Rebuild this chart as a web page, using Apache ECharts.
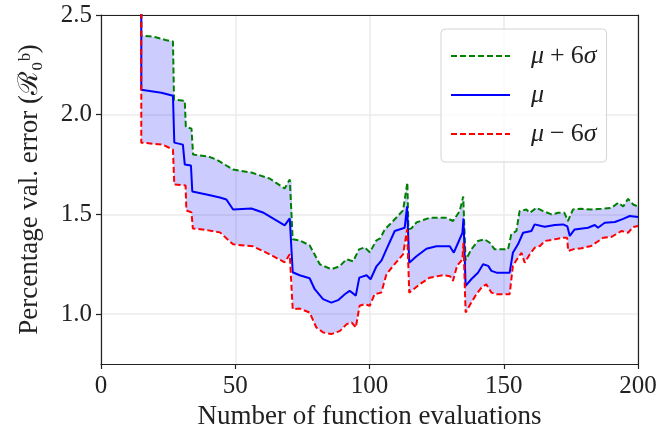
<!DOCTYPE html>
<html>
<head>
<meta charset="utf-8">
<script src="https://cdn.jsdelivr.net/npm/echarts@6/dist/echarts.min.js"></script>
</head>
<body style="margin:0">
<div id="main" style="width:657px;height:430px"></div>
<script type="text/javascript">
// [evaluations, value]
var upper = [
  [15, 4.0], [15, 2.397], [20, 2.39], [24, 2.375], [26.8, 2.367], [27.2, 2.075], [31.2, 2.07], [31.6, 1.94],
  [33.7, 1.93], [34.3, 1.80], [40, 1.79], [43, 1.775], [49.2, 1.725], [56, 1.71], [62.8, 1.68], [68.4, 1.63],
  [70.3, 1.675], [71, 1.67], [71.4, 1.375], [74, 1.37], [77.7, 1.345], [81.5, 1.25], [85.8, 1.225], [88.9, 1.24],
  [91.4, 1.275], [93.9, 1.265], [96.1, 1.325], [98.2, 1.335], [100.1, 1.31], [102.6, 1.37], [104, 1.38],
  [105.7, 1.425], [108.8, 1.467], [112.5, 1.52], [114.1, 1.66], [114.5, 1.425], [115.6, 1.43], [117.5, 1.46],
  [120, 1.472], [122.4, 1.483], [128.6, 1.483], [131.1, 1.467], [133.6, 1.517], [134.9, 1.59], [135.8, 1.27],
  [137.9, 1.325], [140.4, 1.367], [142.9, 1.375], [144.8, 1.358], [146.6, 1.325], [151.6, 1.325], [152.8, 1.40],
  [154.7, 1.417], [155.9, 1.517], [158.4, 1.525], [159.7, 1.508], [162.2, 1.533], [164.7, 1.517], [167.8, 1.50],
  [170.3, 1.508], [172.6, 1.508], [173.9, 1.467], [175.8, 1.525], [178.9, 1.528], [182.6, 1.525], [186.4, 1.528],
  [190.1, 1.533], [192.6, 1.558], [194.5, 1.54], [196.3, 1.578], [198.2, 1.55], [200, 1.54]
];
var mean = [
  [15, 4.0], [15, 2.125], [22.5, 2.11], [26.8, 2.095], [27.3, 1.86], [30.5, 1.85], [31.2, 1.75], [33.5, 1.745],
  [34, 1.615], [39.3, 1.60], [44.3, 1.585], [46.7, 1.575], [49.2, 1.525], [56, 1.53], [60.3, 1.51], [68.4, 1.445],
  [70.3, 1.48], [71, 1.47], [71.4, 1.21], [74, 1.195], [77.7, 1.18], [79.6, 1.125], [82.7, 1.075], [85.8, 1.058],
  [88.3, 1.07], [90.8, 1.10], [92.6, 1.117], [94.9, 1.093], [96.2, 1.183], [98.9, 1.195], [100.4, 1.175],
  [102.6, 1.24], [104.5, 1.27], [106.3, 1.325], [109.4, 1.417], [113.1, 1.433], [114, 1.54], [114.8, 1.258],
  [117.5, 1.29], [121.2, 1.328], [124.9, 1.34], [129.9, 1.34], [131.4, 1.308], [133, 1.358], [134.6, 1.408],
  [135, 1.48], [135.8, 1.142], [137.9, 1.175], [140.4, 1.208], [142.3, 1.25], [144.2, 1.242], [145.4, 1.217],
  [147.3, 1.208], [152.2, 1.208], [153.4, 1.308], [155.3, 1.35], [157.2, 1.408], [160.3, 1.417], [161.5, 1.45],
  [164, 1.442], [165.3, 1.438], [169, 1.447], [172.1, 1.45], [173.7, 1.44], [174.6, 1.392], [176.4, 1.425],
  [181.4, 1.433], [183.9, 1.447], [185.1, 1.433], [187.6, 1.458], [191.4, 1.462], [194.5, 1.478], [196.9, 1.492],
  [200, 1.487]
];
var lower = [
  [15, 4.0], [15, 1.86], [23, 1.85], [26.8, 1.825], [27.3, 1.65], [31.5, 1.645], [31.8, 1.52], [33.7, 1.51],
  [34.2, 1.43], [40, 1.42], [44.3, 1.41], [49.2, 1.35], [56.6, 1.34], [62.8, 1.30], [68.4, 1.26], [70.3, 1.30],
  [71, 1.29], [71.4, 1.025], [74, 1.028], [77.7, 1.008], [80.2, 0.933], [82.8, 0.908], [85.8, 0.90], [88.9, 0.915],
  [91.5, 0.95], [93.4, 0.958], [94.9, 0.933], [96.3, 1.042], [98.2, 1.05], [100.1, 1.042], [101.9, 1.10],
  [104.4, 1.108], [106.3, 1.20], [108.8, 1.242], [112.5, 1.30], [114, 1.425], [114.8, 1.108], [118.7, 1.15],
  [122.4, 1.183], [127.4, 1.195], [130, 1.19], [131.1, 1.167], [132.6, 1.242], [134.6, 1.275], [135, 1.358],
  [135.8, 1.008], [137.9, 1.058], [139.8, 1.10], [141.7, 1.133], [143.5, 1.15], [145.4, 1.108], [147.3, 1.10],
  [152.2, 1.10], [153.4, 1.242], [155.3, 1.283], [156.6, 1.308], [157.8, 1.258], [159.7, 1.30], [161.5, 1.333],
  [163.5, 1.342], [165.3, 1.367], [169, 1.375], [172.1, 1.383], [173.6, 1.383], [174, 1.317], [175.8, 1.325],
  [178.9, 1.33], [182.6, 1.342], [187, 1.383], [190.1, 1.387], [193.9, 1.417], [196.3, 1.408], [198.2, 1.437],
  [200, 1.442]
];
var xTicks = [0, 50, 100, 150, 200];
var yTicks = [1.0, 1.5, 2.0, 2.5];
var names = ['μ + 6σ', 'μ', 'μ − 6σ'];

var myChart = echarts.init(document.getElementById('main'));
var serif = '"Liberation Serif", "DejaVu Serif", serif';
var spine = { show: true, onZero: false, lineStyle: { color: '#222', width: 1.2 } };

var option = {
    animation: false,
    backgroundColor: '#fff',
    grid: {
        left: 101, right: 19, top: 15, bottom: 66,
        outerBoundsMode: 'none', containLabel: false
    },
    legend: {
        data: names,
        orient: 'vertical',
        left: 441, top: 29,
        padding: [14, 10, 15, 9],
        itemWidth: 59, itemHeight: 14, itemGap: 13,
        borderColor: '#d4d4d4', borderWidth: 1, borderRadius: 4,
        backgroundColor: 'rgba(255,255,255,0.8)',
        itemStyle: { opacity: 0 },
        formatter: function (name) {
            if (name === names[0]) return '{i|μ}{o|+}6{i|σ}';
            if (name === names[1]) return '{i|μ}';
            return '{i|μ}{o|−}6{i|σ}';
        },
        textStyle: {
            fontFamily: serif, fontSize: 26, color: '#222', padding: [0, 0, 0, 16],
            rich: {
                i: { fontFamily: serif, fontSize: 26, fontStyle: 'italic', color: '#222' },
                o: { fontFamily: serif, fontSize: 26, color: '#222', padding: [0, 6, 0, 6] }
            }
        }
    },
    xAxis: [{
        type: 'value', min: 0, max: 200, interval: 50,
        name: 'Number of function evaluations', nameLocation: 'middle', nameGap: 32,
        nameTextStyle: { fontFamily: serif, fontSize: 27, color: '#222' },
        axisLine: spine,
        axisTick: { length: 5, lineStyle: { color: '#222', width: 1.2 }, customValues: xTicks },
        axisLabel: { fontFamily: serif, fontSize: 25, color: '#222', margin: 10, customValues: xTicks },
        splitLine: { show: true, lineStyle: { color: '#ebebeb', width: 1.5 } }
    }, {
        type: 'value', position: 'top', min: 0, max: 200,
        axisLine: spine,
        axisTick: { show: false }, axisLabel: { show: false }, splitLine: { show: false }
    }],
    yAxis: [{
        type: 'value', min: 0.75, max: 2.5,
        name: 'Percentage val. error (ℛ₀ᵇ)', nameLocation: 'middle', nameGap: 58,
        nameTextStyle: { fontFamily: serif, fontSize: 27, color: '#222' },
        axisLine: spine,
        axisTick: { length: 5, lineStyle: { color: '#222', width: 1.2 }, customValues: yTicks },
        axisLabel: {
            fontFamily: serif, fontSize: 25, color: '#222', margin: 9, customValues: yTicks,
            formatter: function (v) { return v.toFixed(1); }
        },
        splitLine: { show: true, lineStyle: { color: '#ebebeb', width: 1.5 } }
    }, {
        type: 'value', position: 'right', min: 0.75, max: 2.5,
        axisLine: spine,
        axisTick: { show: false }, axisLabel: { show: false }, splitLine: { show: false }
    }],
    series: [
        {
            type: 'custom',
            clip: true,
            silent: true,
            data: [[100, 1.5]],
            renderItem: function (params, api) {
                var pts = [];
                upper.forEach(function (p) { pts.push(api.coord(p)); });
                for (var i = lower.length - 1; i >= 0; i--) pts.push(api.coord(lower[i]));
                return { type: 'polygon', shape: { points: pts }, style: { fill: 'rgba(0,0,255,0.2)' } };
            },
            z: 1
        },
        {
            name: names[0], type: 'line', data: upper, symbol: 'none', clip: true,
            lineStyle: { color: '#008000', width: 2, type: [6, 3] }, itemStyle: { color: '#008000' }, z: 2
        },
        {
            name: names[1], type: 'line', data: mean, symbol: 'none', clip: true,
            lineStyle: { color: '#0000ff', width: 2 }, itemStyle: { color: '#0000ff' }, z: 3
        },
        {
            name: names[2], type: 'line', data: lower, symbol: 'none', clip: true,
            lineStyle: { color: '#ff0000', width: 2, type: [6, 3] }, itemStyle: { color: '#ff0000' }, z: 4
        }
    ]
};
myChart.setOption(option);
</script>
</body>
</html>
